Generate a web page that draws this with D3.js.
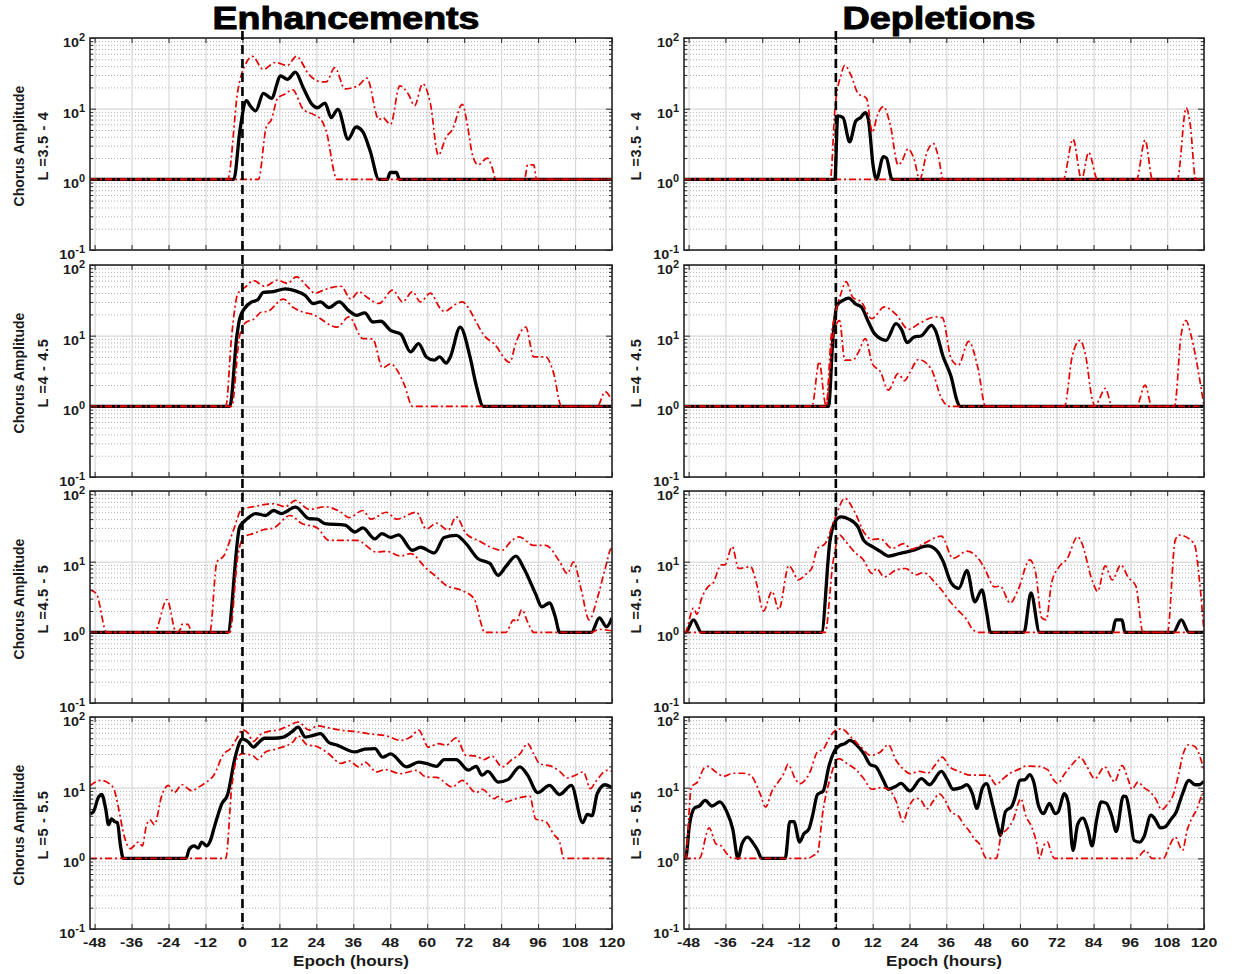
<!DOCTYPE html>
<html>
<head>
<meta charset="utf-8">
<script src="https://cdn.jsdelivr.net/npm/d3@7"></script>
<style>
  body { margin: 0; background: #fff; }
  text { font-family: "Liberation Sans", Arial, sans-serif; font-weight: bold; fill: #1a1a1a; }
</style>
</head>
<body>
<div id="container"></div>
<script>
// ---- data: [epoch hour, chorus amplitude] ----
const lShells = ['L =3.5 - 4', 'L =4 - 4.5', 'L =4.5 - 5', 'L =5 - 5.5']
const columnTitles = ['Enhancements', 'Depletions']
const xTickValues = [-48, -36, -24, -12, 0, 12, 24, 36, 48, 60, 72, 84, 96, 108, 120]
const yTickValues = [0.1, 1, 10, 100]
const yTickExp = ['-1', '0', '1', '2']

// Enhancements, L = 3.5 - 4
const enh1Median = [[-49.5,1],[-2.8,1],[-0.8,5],[1.3,13],[2.5,11],[4.3,9.3],[6.8,16.5],[9.4,14],[12.4,29],[14.6,26],[17.2,33],[19.7,20],[22.6,11.5],[24.3,10.3],[26.8,12],[28.8,7.5],[31,9.8],[34.3,3.7],[36.9,5.5],[39,4.8],[41.5,2.5],[44.3,1],[47,1],[48,1.25],[50,1.25],[51,1],[120,1]]
const enh1Upper = [[-49.5,1],[-4.8,1],[-1.5,18],[1.3,45],[3.2,55],[6.8,36],[10.7,45],[14.6,41],[17.5,55],[21.7,30],[25.5,24],[27.2,24],[30,38],[33.3,19],[36.1,20],[37.5,21],[40.4,27],[44.3,7],[45.5,7.5],[48.1,6],[51.1,21],[53.9,16],[55.9,11],[58.5,22.5],[61,12],[63.6,2.2],[66.2,4],[68.1,5],[71.4,11.5],[73.3,5],[74.6,2.3],[76.5,1.6],[79.5,2],[81,1.5],[82.3,1],[91.6,1],[92.6,1.6],[94.6,1.6],[95.5,1],[120,1]]
const enh1Lower = [[-49.5,1],[5.2,1],[7.7,5.4],[9.4,7],[11.4,14],[13.7,16],[16.3,18.5],[19.7,9.8],[23,8.3],[25.5,7],[27.1,5],[30.7,1],[120,1]]

// Depletions, L = 3.5 - 4
const dep1Median = [[-49.5,1],[-0.3,1],[0.6,7.9],[2.3,7.5],[4.5,3.4],[6.5,6.7],[8.1,7.5],[9.6,8.8],[10.6,7],[12.2,1.5],[13.2,1],[15.5,2.1],[16.5,2],[18.3,1],[120,1]]
const dep1Upper = [[-49.5,1],[-1.8,1],[-0.3,10],[1.7,30],[2.9,41],[4.9,30],[7.2,16.5],[10,14],[11.9,4.6],[13.5,8],[15.5,10.7],[17.7,6],[20.3,1.6],[21.5,1.8],[23.5,2.7],[25.4,2],[27.3,1],[29.8,2.5],[31.8,3.2],[33.5,2],[35,1],[74.1,1],[77.3,3.7],[80.1,1],[82.4,2.4],[85.3,1],[98,1],[100.8,3.6],[103.2,1],[111.3,1],[114.2,10.3],[115.5,6],[117.3,1],[120,1]]
const dep1Lower = [[-49.5,1],[120,1]]

// Enhancements, L = 4 - 4.5
const enh2Median = [[-49.5,1],[-4.1,1],[-1.8,10],[-0.9,17.4],[0.6,24],[3,30],[4.9,32],[6.8,41],[10,42],[13.9,46],[17.2,43],[20.4,37],[23,28.5],[25.3,30],[28.1,25],[31.4,30],[34.6,22.4],[37.2,19.4],[39.7,21],[42.3,15.6],[44.9,16],[48.1,11.9],[51.4,10.5],[54.6,5.9],[57.2,7.7],[59.7,5],[62.3,4.5],[64,5],[66.2,4.1],[67.5,5],[70.7,13.2],[73.9,5],[75.9,2],[78.2,1],[120,1]]
const enh2Upper = [[-49.5,1],[-5.4,1],[-3.5,10],[-1.5,39],[1,49],[3.6,60],[7.2,50],[11.4,61],[14.6,55],[17.5,68],[21,50],[23.6,40],[26.8,45],[32,50],[35.2,33],[37.8,42],[40.4,35],[44.3,28.5],[48.8,44],[52,30],[55.2,42],[57.8,30],[61,40],[64.3,24],[65.5,22],[69.4,28],[71.4,30],[73.3,25],[75.9,15.6],[78.5,10],[81.7,7.7],[86.8,4.2],[88.8,8],[92,13.2],[94.6,5],[98.5,5],[101,3],[103.6,1],[115.2,1],[117.8,1.6],[120,1.2]]
const enh2Lower = [[-49.5,1],[-3.5,1],[-0.9,10],[1.3,15.6],[3.6,17],[6.2,21.6],[8.1,22],[13.3,33],[16.5,25],[19.1,22],[23,19.8],[30.7,13.2],[34.6,18.4],[39.1,9.1],[42.3,9],[45.5,3.5],[48.1,4],[50.7,3],[52.6,2],[55.2,1],[120,1]]

// Depletions, L = 4 - 4.5
const dep2Median = [[-49.5,1],[-2.4,1],[-0.9,10],[0.4,27],[2.3,31.6],[4.2,34],[6.5,28],[8.3,25.5],[10.4,16.4],[12.6,10.7],[16.4,8.6],[19.6,14.8],[21.5,12],[23.2,8],[25.4,9.5],[27.9,10],[31.2,14],[32.4,12],[35,5],[37.6,2.6],[39.5,1.2],[40.4,1],[120,1]]
const dep2Upper = [[-49.5,1],[-7.8,1],[-5.4,4.3],[-3.8,1.3],[-3.2,1],[-1.5,10],[-0.3,19.4],[1.7,40],[3.3,58],[5.5,35],[8.3,30],[11.7,17.4],[15.8,25.5],[19.6,20],[23.7,12.3],[27.3,15],[32.4,18.4],[34.7,18],[37.6,4.7],[39.9,3.8],[43.3,8.3],[46.3,3.5],[48.8,1],[74.5,1],[77,5],[79.6,8.6],[81.5,5],[83.5,1.3],[84.5,1],[86,1.3],[87.8,1.8],[90.1,1],[98,1],[100.8,2],[103,1],[110.4,1],[112.5,10],[114.1,16.4],[115.8,10],[117.3,5],[120,1]]
const dep2Lower = [[-49.5,1],[-3.2,1],[-0.9,10],[1.2,16.4],[2.9,4.5],[5.5,4.5],[7.5,6],[9.6,9.1],[11.9,4],[14.5,3.1],[17.1,1.7],[20.3,2.9],[22.4,2.3],[24.1,3],[26.9,4.6],[31.2,3.3],[34.4,1.3],[36.9,1],[120,1]]

// Enhancements, L = 4.5 - 5
const enh3Median = [[-49.5,1],[-4.8,1],[-0.9,31],[1,38.5],[4.3,48],[7.5,45],[10.1,53],[12.6,48],[17.2,59],[21.7,40.5],[24.3,40],[26.8,34.5],[33.3,33],[36.5,26.3],[39.1,30],[43,21],[45.3,25],[48.1,22],[50.7,24],[55.2,14.5],[57.8,16],[62.3,13.3],[65.5,22],[69.4,23.6],[72.6,18],[76.5,11],[80.4,9.4],[83,6.4],[85.5,8.5],[88.8,12],[91.4,8],[95.2,3.5],[97.2,2.3],[99.7,2.6],[101.5,1.7],[103,1],[113.3,1],[115.9,1.6],[118.2,1.2],[120,1.6]]
const enh3Upper = [[-49.5,4],[-47.4,3.5],[-44.1,1],[-28.6,1],[-24.5,2.9],[-21.5,1],[-20.2,1.1],[-19.6,1.3],[-17.7,1.3],[-16.4,1],[-10.6,1],[-8.3,9.9],[-6.1,12],[-2.8,29],[-0.3,54.5],[3.6,60],[10.1,66],[13.9,60],[17.2,73.5],[21.7,55],[26.8,60],[32,50],[34.6,42],[39.1,53],[41.7,40],[46.8,50],[50,40],[56.5,50],[59.7,29],[63,35],[66.8,28],[69.4,43],[72.6,25],[76.5,20],[84.3,14.5],[87.5,20],[89.8,22.4],[94.6,17],[98.5,17],[103,10],[105.5,6.8],[107.5,9.9],[110,4],[112.6,1.5],[115.2,3],[117.8,8],[119.7,15.3],[120,15.5]]
const enh3Lower = [[-49.5,1],[-4.1,1],[-1.5,12],[0.4,22.4],[3.6,25],[6.8,28.3],[10.1,30],[15.5,45],[19.1,35],[24.3,30],[28.1,20],[32,20],[37.2,20],[43.6,13.7],[46.8,14],[51.4,12],[54.6,13],[59.7,8],[63,6.1],[66.2,4.6],[70.7,4],[75.2,3],[77.8,1.2],[78.5,1],[85.5,1],[88.1,1.5],[89,1.4],[90.7,2.1],[92.6,1.4],[94.6,1],[113.3,1],[115.9,1.1],[120,1.05]]

// Depletions, L = 4.5 - 5
const dep3Median = [[-49.5,1],[-49,1],[-46.4,1.5],[-43.8,1],[-4.7,1],[-1.9,20],[-0.3,36.7],[1.7,43],[4.2,40],[7.2,31],[9.1,20],[11.9,16.3],[14.5,14],[17.1,12],[20.6,13],[25.4,14.6],[29.9,16.7],[33.1,14],[35,10],[37.6,5],[40.1,4.2],[42.7,7.5],[45.3,2.7],[47.6,4],[49.1,2],[50.4,1],[61.3,1],[63.6,3.6],[66.4,1],[90.1,1],[91.2,1.5],[93.3,1.5],[94.2,1],[110,1],[112.6,1.5],[115.1,1],[120,1]]
const dep3Upper = [[-49.5,1],[-49.2,1],[-46.4,2.2],[-45.3,1.8],[-43.8,3],[-41.7,4.4],[-40,5],[-37.4,9],[-36.2,9],[-33.8,16.3],[-31.7,8],[-27.8,8.5],[-25.9,5],[-23.6,2],[-20.8,3.8],[-18.6,2.1],[-15.3,8.8],[-13.7,7],[-12.4,5.5],[-9.2,7],[-7.9,8],[-6,15.4],[-3.5,18],[-0.3,41],[2.9,79],[6.2,50],[9.4,25],[11.9,20.6],[14.5,21],[18.3,15.4],[22.2,18],[24.7,15],[28.6,18],[34.4,23],[38.2,11.1],[42.7,14.1],[46.5,11],[48.5,8],[51.7,4.4],[53.6,4.5],[56.8,2.6],[59.4,4],[63.2,10.6],[65.1,7],[67.1,1.6],[68.6,1.5],[70.3,5],[72.8,8.5],[75.4,11],[78.8,22.6],[79.8,20],[83.7,5.2],[85.3,3.8],[87.8,8.7],[90.1,5.5],[92.9,9],[95.3,6],[97.8,4.5],[100.1,1],[108.1,1],[110.6,20],[111.9,23.8],[116.8,18],[118.6,5],[120,1]]
const dep3Lower = [[-49.5,1],[-3.5,1],[-0.9,10],[1.3,23.8],[2.9,20],[6.5,13.1],[8.7,11],[11.9,6.8],[13.2,8],[15.8,6.1],[19.6,7.6],[22.8,8],[26,6.5],[28.6,7],[32.4,5],[34.4,4],[37.6,2.6],[40.1,2],[42.7,1.5],[44.6,1.1],[46.5,1],[120,1]]

// Enhancements, L = 5 - 5.5
const enh4Median = [[-49.5,4.3],[-48.5,4.5],[-46.7,7.4],[-45.7,8],[-44.4,5],[-43.5,3],[-42.5,3.6],[-41.5,3.3],[-40.6,3.2],[-39.6,1.5],[-38.7,1],[-18.3,1],[-17.3,1.34],[-15.7,1.5],[-14.4,1.4],[-13.2,1.7],[-11.6,1.5],[-10.6,1.7],[-9,2.9],[-6.7,5.9],[-4.8,8],[-2.6,24.4],[-0.9,44],[0,49],[1.7,45],[3.6,37.5],[4.9,42],[7.2,50],[10.1,50],[13.3,52],[15.9,61],[18.1,72],[20.4,52],[23,55],[25.3,58],[28.1,43.4],[30.7,40],[36.5,32],[39.7,35],[43,35.7],[45.5,27],[48.1,30],[53.3,19.7],[57.2,23],[59.7,22],[63,20],[65.5,25],[69.4,25],[73.3,17.7],[75.9,20],[77.8,15],[79.7,17],[83,12],[86.2,13],[90.1,19.7],[92.6,15],[95.9,8.5],[99.7,10.8],[103,8],[106.8,10.8],[110.5,3.2],[112,4.2],[113.5,4],[115.2,8.2],[117.8,11],[120,10]]
const enh4Upper = [[-49.5,10.6],[-46,12.7],[-42.8,11],[-41.5,9],[-40.3,5.3],[-38.3,2],[-36.4,1.37],[-33.8,1.7],[-32.5,1.5],[-31.2,2.9],[-30,3.5],[-28.6,3],[-26.1,8],[-24.1,10.8],[-22.2,8.5],[-19.6,11],[-16.4,9],[-14.5,10],[-11.9,11.8],[-9.3,15],[-6.1,30],[-4.1,35],[-1.8,50],[0,66],[1.7,60],[3.6,45],[5.5,55],[8.8,63],[11.4,65],[15.2,76],[18.1,85],[21.7,65],[24.3,75],[28.1,70],[33.3,64],[37.2,62],[41,58],[46.8,54],[51.4,46.7],[54.6,52],[57.2,65],[60.4,37.5],[63.6,42],[66.2,40],[69.4,50.5],[72.6,28.7],[75.9,28],[78.5,25],[81,28],[84.3,19.7],[87.5,25],[90.1,30],[92.6,42],[94.6,30],[96.5,21.8],[100.4,20],[103,17],[105.5,13.7],[108.1,15],[110.7,16.7],[113,9.7],[114.6,12],[118.5,17.6],[120,17]]
const enh4Lower = [[-49.5,1],[-5.4,1],[-3.5,10],[-1.8,25.7],[0,30.3],[3.6,28],[4.9,25],[7.5,32],[11.4,35.7],[16.5,45],[18.1,54],[21,40.5],[24.3,38],[28.1,30],[32,22],[34.6,24],[37.8,19.7],[39.7,23],[43.6,16.7],[46.2,18],[51.4,15.8],[56.5,17.6],[59.7,14.1],[63,14],[68.1,10.2],[71.4,12.7],[75.9,8.5],[77.8,9.5],[81.7,7],[83,7.5],[85.5,6.3],[88.8,7],[93.3,7.6],[95.2,3.6],[98.5,3.3],[101,2.2],[103,1.7],[104.3,1],[120,1]]

// Depletions, L = 5 - 5.5
const dep4Median = [[-49.5,1],[-49,1],[-47.7,3],[-46,5.2],[-44.5,5.5],[-42.6,6.6],[-40.4,5.5],[-37.8,6.3],[-35.5,4.5],[-33.6,2.6],[-31.9,1],[-30.6,1.6],[-28.8,2],[-26.8,1.6],[-25.5,1.3],[-24.2,1],[-16.5,1],[-15,3.3],[-13.7,3.3],[-11.8,1.7],[-10.5,2.2],[-8.8,2.6],[-7.6,4],[-6,8],[-4.1,9],[-2.2,20.6],[-0.3,33.8],[1.3,39.7],[2.9,42],[4.6,46.7],[6.8,40],[9.1,30.3],[11.3,21],[12.9,20],[15.5,12.7],[17.1,9.5],[19.6,10.5],[21.2,11.5],[24.1,9],[27.9,13.4],[30.5,11],[34.4,17],[36.3,13],[38.2,9.5],[40.8,10],[42.7,11],[44.6,8],[45.9,5.1],[47.8,10],[49.1,11.4],[51,6],[52.9,2.7],[53.6,2.1],[55.3,4.6],[57.4,5.5],[58.3,7],[60,12.7],[61.7,13],[63.2,15.3],[64.5,12],[66,5.7],[67.7,4.3],[69.6,6],[71.5,4.3],[72.4,4.5],[74.5,8.2],[75.8,6],[77.3,1.3],[78.8,3],[80.5,3.7],[82.2,2.5],[83.5,1.5],[85,3.5],[86.5,6.3],[88.2,6],[89.9,4],[91.4,2.4],[93.7,7.6],[94.6,7.5],[95.9,4],[97.2,1.8],[99.1,1.7],[100.4,2],[102.7,4.1],[104.2,3.5],[105.8,2.7],[107.4,2.8],[109.1,3.5],[110.9,4.5],[112.9,8],[115.1,12.7],[117.1,11],[118.3,11],[120,12.3]]
const dep4Upper = [[-49.5,1],[-49,1],[-47.1,10.2],[-45.1,12],[-42.9,19],[-41.7,20],[-39.4,17],[-36.5,14.5],[-33.6,16],[-30.4,16],[-27.8,15],[-24.6,8],[-22.9,5.3],[-20.8,9],[-18.8,12],[-16.9,16],[-15.6,21.3],[-13.1,13],[-11.8,11.4],[-9.9,13],[-8.6,16],[-6,32],[-4.1,35],[-2.2,50],[0.4,66.6],[1.7,68],[5.5,49],[8.1,38],[11.3,28.7],[14.5,32],[17.1,40.5],[19.6,24.4],[22.2,18],[24.1,15.8],[27.3,17],[29.9,16],[32.4,21],[34.7,27.1],[36.9,20],[40.1,17],[44,15],[49.7,15],[52.3,11],[54.2,13],[56.8,16],[59.4,18],[61.9,20.2],[65.8,20],[69,18],[70.9,13],[72.2,11.5],[74.7,16],[77.3,22],[79.6,27.1],[81.8,20],[84.4,13.4],[87.6,19.7],[90.1,13],[90.8,12],[93.3,20.6],[95.3,13],[96.5,9.5],[98.5,12],[100.4,10],[102.3,8.8],[104.2,7],[106.2,4.9],[108.3,6],[110,8],[111.7,15.3],[113.2,30],[115.1,40.5],[117.1,38],[119,25],[120,17.6]]
const dep4Lower = [[-49.5,1],[-44.5,1],[-41.3,2.7],[-39.1,1.6],[-37.4,1.5],[-35.8,1.2],[-33.6,1],[-9.2,1],[-7.3,1.1],[-6,1.2],[-4.1,5],[-2.2,12],[1,25.7],[3.6,22],[6.8,17.6],[9.1,13.4],[11.7,9.5],[14.5,10],[17.1,9.5],[19.6,6.5],[21.9,3.3],[23.5,5],[26,7.1],[27.9,6.5],[29.6,5],[31.8,6.5],[33.7,8.2],[35.3,7],[37.6,4.5],[39.9,4],[41.7,3],[43.3,2.5],[45.3,1.86],[46.8,1.6],[49.1,1],[52.3,1],[54,2.2],[55.5,2.5],[57.8,3.5],[60.3,7],[61.9,4],[63.8,2.8],[65.5,1.6],[66.4,1],[67.7,1.5],[69,1.7],[70.2,1.2],[71.2,1],[97.8,1],[101,1.3],[103,1],[106.8,1],[108.7,1.5],[110.6,2],[113,1.3],[114.5,2.5],[115.8,3.5],[117.7,5],[119.6,8.2],[120,8.4]]

const panels = [
  { col: 0, row: 0, median: enh1Median, upper: enh1Upper, lower: enh1Lower },
  { col: 1, row: 0, median: dep1Median, upper: dep1Upper, lower: dep1Lower },
  { col: 0, row: 1, median: enh2Median, upper: enh2Upper, lower: enh2Lower },
  { col: 1, row: 1, median: dep2Median, upper: dep2Upper, lower: dep2Lower },
  { col: 0, row: 2, median: enh3Median, upper: enh3Upper, lower: enh3Lower },
  { col: 1, row: 2, median: dep3Median, upper: dep3Upper, lower: dep3Lower },
  { col: 0, row: 3, median: enh4Median, upper: enh4Upper, lower: enh4Lower },
  { col: 1, row: 3, median: dep4Median, upper: dep4Upper, lower: dep4Lower }
]

// ---- layout ----
const w = 1237
const h = 974
const colX = [[90, 612], [684, 1204]]
const rowTop = [38, 265, 491, 717]
const panelH = 212
const xDomain = [-49.5, 120]
const stretch = 1.18   // the figure's text is a bit wider than the font

const svg = d3.select('#container')
  .append('svg')
    .attr('width', w)
    .attr('height', h)
    .style('background', 'white')

const defs = svg.append('defs')

const wideText = (sel, x, y, str, size, anchor) =>
  sel.append('text')
    .attr('transform', `translate(${x},${y}) scale(${stretch},1)`)
    .attr('text-anchor', anchor || 'middle')
    .style('font-size', size + 'px')
    .text(str)

// column titles
columnTitles.forEach((t, i) => {
  svg.append('text')
    .attr('x', (colX[i][0] + colX[i][1]) / 2 - 5)
    .attr('y', 29)
    .attr('text-anchor', 'middle')
    .attr('textLength', i === 0 ? 267 : 193)
    .attr('lengthAdjust', 'spacingAndGlyphs')
    .style('font-size', '32px')
    .style('fill', '#000')
    .style('stroke', '#000')
    .style('stroke-width', 1)
    .text(t)
})

const minorVals = []
;[0.1, 1, 10].forEach(d => d3.range(2, 10).forEach(k => minorVals.push(k * d)))

panels.forEach((p, i) => {
  const [x0, x1] = colX[p.col]
  const top = rowTop[p.row]
  const bottom = top + panelH

  const x = d3.scaleLinear().domain(xDomain).range([x0, x1])
  const y = d3.scaleLog().domain([0.1, 100]).range([bottom, top])

  const g = svg.append('g')

  defs.append('clipPath').attr('id', 'clip' + i)
    .append('rect').attr('x', x0).attr('y', top).attr('width', x1 - x0).attr('height', panelH)

  // minor y grid (dotted)
  g.append('g')
    .attr('transform', `translate(${x0},0)`)
    .call(d3.axisLeft(y).tickValues(minorVals).tickSize(-(x1 - x0)).tickFormat(''))
    .call(a => a.select('.domain').remove())
    .selectAll('line')
      .attr('stroke', '#9a9a9a')
      .attr('stroke-width', 0.8)
      .attr('stroke-dasharray', '1,2')

  // x grid
  g.append('g')
    .attr('transform', `translate(0,${bottom})`)
    .call(d3.axisBottom(x).tickValues(xTickValues).tickSize(-panelH).tickFormat(''))
    .call(a => a.select('.domain').remove())
    .selectAll('line')
      .attr('stroke', '#d8d8d8')
      .attr('stroke-width', 1.2)

  // major y grid
  g.append('g')
    .attr('transform', `translate(${x0},0)`)
    .call(d3.axisLeft(y).tickValues(yTickValues).tickSize(-(x1 - x0)).tickFormat(''))
    .call(a => a.select('.domain').remove())
    .selectAll('line')
      .attr('stroke', '#d8d8d8')
      .attr('stroke-width', 1.2)

  // series
  const line = d3.line()
    .x(d => x(d[0]))
    .y(d => y(d[1]))
    .curve(d3.curveMonotoneX)

  const lines = g.append('g').attr('clip-path', `url(#clip${i})`)

  lines.append('path')
    .datum(p.median)
    .attr('d', line)
    .attr('fill', 'none')
    .attr('stroke', '#000')
    .attr('stroke-width', 3.3)
    .attr('stroke-linejoin', 'round')

  ;[p.upper, p.lower].forEach(s => {
    lines.append('path')
      .datum(s)
      .attr('d', line)
      .attr('fill', 'none')
      .attr('stroke', '#e60000')
      .attr('stroke-width', 1.7)
      .attr('stroke-dasharray', '7,3,2,3')
  })

  // ticks (inward) on all four sides
  const tickStyle = a => {
    a.select('.domain').remove()
    a.selectAll('line').attr('stroke', '#262626').attr('stroke-width', 1)
  }
  g.append('g').attr('transform', `translate(0,${bottom})`)
    .call(d3.axisBottom(x).tickValues(xTickValues).tickSize(-5).tickFormat('')).call(tickStyle)
  g.append('g').attr('transform', `translate(0,${top})`)
    .call(d3.axisTop(x).tickValues(xTickValues).tickSize(-5).tickFormat('')).call(tickStyle)
  g.append('g').attr('transform', `translate(${x0},0)`)
    .call(d3.axisLeft(y).tickValues(yTickValues).tickSize(-6).tickFormat('')).call(tickStyle)
  g.append('g').attr('transform', `translate(${x1},0)`)
    .call(d3.axisRight(y).tickValues(yTickValues).tickSize(-6).tickFormat('')).call(tickStyle)
  g.append('g').attr('transform', `translate(${x0},0)`)
    .call(d3.axisLeft(y).tickValues(minorVals).tickSize(-3).tickFormat('')).call(tickStyle)
  g.append('g').attr('transform', `translate(${x1},0)`)
    .call(d3.axisRight(y).tickValues(minorVals).tickSize(-3).tickFormat('')).call(tickStyle)

  // frame
  g.append('rect')
    .attr('x', x0).attr('y', top)
    .attr('width', x1 - x0).attr('height', panelH)
    .attr('fill', 'none')
    .attr('stroke', '#262626')
    .attr('stroke-width', 1.6)

  // y tick labels 10^n
  yTickValues.forEach((v, k) => {
    const t = svg.append('text')
      .attr('transform', `translate(${x0 - 5},${y(v) + 9}) scale(1.1,1)`)
      .attr('text-anchor', 'end')
      .style('font-size', '13px')
    t.append('tspan').text('10')
    t.append('tspan').attr('dy', -6).style('font-size', '10px').text(yTickExp[k])
  })

  // x tick labels on the bottom row
  if (p.row === 3) {
    xTickValues.forEach(v => wideText(svg, x(v), bottom + 17.5, String(v), 13.5))
    wideText(svg, (x0 + x1) / 2, bottom + 37, 'Epoch (hours)', 14.5)
  }

  // y axis labels
  const midY = top + panelH / 2 + 2
  const lx = p.col === 0 ? 48 : 641
  svg.append('text')
    .attr('transform', `translate(${lx},${midY}) rotate(-90)`)
    .attr('text-anchor', 'middle')
    .style('font-size', '14.5px')
    .style('letter-spacing', '0.7px')
    .text(lShells[p.row])
  if (p.col === 0) {
    svg.append('text')
      .attr('transform', `translate(24,${midY}) rotate(-90)`)
      .attr('text-anchor', 'middle')
      .style('font-size', '14px')
      .text('Chorus Amplitude')
  }
})

// epoch zero marker across each column
colX.forEach(([x0, x1]) => {
  const x = d3.scaleLinear().domain(xDomain).range([x0, x1])
  svg.append('line')
    .attr('x1', x(0)).attr('x2', x(0))
    .attr('y1', 31).attr('y2', rowTop[3] + panelH)
    .attr('stroke', '#000')
    .attr('stroke-width', 2.6)
    .attr('stroke-dasharray', '9,5')
})
</script>
</body>
</html>
